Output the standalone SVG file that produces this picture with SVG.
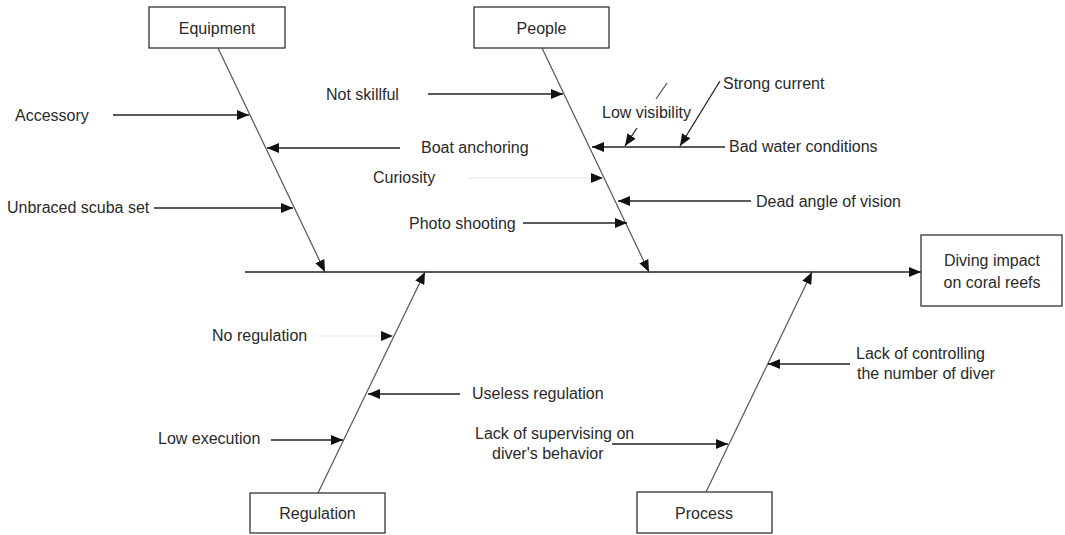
<svg xmlns="http://www.w3.org/2000/svg" width="1065" height="535" viewBox="0 0 1065 535">
<style>
  .box{fill:#fff;stroke:#333;stroke-width:1.3}
  .t{font-family:"Liberation Sans",Arial,sans-serif;font-size:16px;fill:#2a2a2a}
  .c{text-anchor:middle}
  .bone{stroke:#555;stroke-width:1.2;fill:none}
  .arr{stroke:#222;stroke-width:1.3;fill:none}
  .faint{stroke:#e6e6e6;stroke-width:1.2;fill:none}
</style>
<defs>
  <marker id="ah" markerUnits="userSpaceOnUse" markerWidth="13" markerHeight="10" refX="12" refY="5" orient="auto">
    <path d="M0,0 L12,5 L0,10 z" fill="#111"/>
  </marker>
</defs>
<rect width="1065" height="535" fill="#fff"/>
<g id="connectors">
  <line class="arr" x1="245" y1="272" x2="921" y2="272" marker-end="url(#ah)"/>
  <line class="bone" x1="218" y1="48" x2="325" y2="272" marker-end="url(#ah)"/>
  <line class="bone" x1="542" y1="48" x2="649" y2="272" marker-end="url(#ah)"/>
  <line class="bone" x1="318" y1="493" x2="425" y2="272" marker-end="url(#ah)"/>
  <line class="bone" x1="706" y1="492" x2="812" y2="272" marker-end="url(#ah)"/>
  <line class="arr" x1="113" y1="115" x2="249" y2="115" marker-end="url(#ah)"/>
  <line class="arr" x1="400" y1="148" x2="267" y2="148" marker-end="url(#ah)"/>
  <line class="arr" x1="154" y1="208" x2="293" y2="208" marker-end="url(#ah)"/>
  <line class="arr" x1="428" y1="94" x2="563" y2="94" marker-end="url(#ah)"/>
  <line class="arr" x1="725" y1="147" x2="592" y2="147" marker-end="url(#ah)"/>
  <line class="arr" x1="637" y1="128" x2="625" y2="146" marker-end="url(#ah)"/>
  <line class="bone" x1="667" y1="83" x2="656" y2="99"/>
  <line class="arr" x1="720" y1="81" x2="680" y2="146" marker-end="url(#ah)"/>
  <line class="faint" x1="468" y1="178" x2="603" y2="178" marker-end="url(#ah)"/>
  <line class="arr" x1="751" y1="201" x2="618" y2="201" marker-end="url(#ah)"/>
  <line class="arr" x1="523" y1="223" x2="627" y2="223" marker-end="url(#ah)"/>
  <line class="faint" x1="317" y1="336" x2="393" y2="336" marker-end="url(#ah)"/>
  <line class="arr" x1="460" y1="394" x2="368" y2="394" marker-end="url(#ah)"/>
  <line class="arr" x1="271" y1="440" x2="343" y2="440" marker-end="url(#ah)"/>
  <line class="arr" x1="612" y1="444" x2="728" y2="444" marker-end="url(#ah)"/>
  <line class="arr" x1="850" y1="364" x2="768" y2="364" marker-end="url(#ah)"/>
</g>
<g id="equipment"><rect class="box" x="149" y="7" width="136" height="41"/><text class="t c" x="217" y="34">Equipment</text></g>
<g id="people"><rect class="box" x="474" y="7" width="135" height="41"/><text class="t c" x="541.5" y="34">People</text></g>
<g id="regulation"><rect class="box" x="250" y="493" width="135" height="40"/><text class="t c" x="317.5" y="519">Regulation</text></g>
<g id="process"><rect class="box" x="637" y="492" width="135" height="41"/><text class="t c" x="704" y="519">Process</text></g>
<g id="effect"><rect class="box" x="921" y="235" width="141" height="71"/><text class="t c" x="992" y="266">Diving impact</text><text class="t c" x="992" y="288">on coral reefs</text></g>
<g id="labels">
  <text class="t" x="15" y="121">Accessory</text>
  <text class="t" x="421" y="153">Boat anchoring</text>
  <text class="t" x="7" y="213">Unbraced scuba set</text>
  <text class="t" x="326" y="100">Not skillful</text>
  <text class="t" x="373" y="183">Curiosity</text>
  <text class="t" x="409" y="229">Photo shooting</text>
  <text class="t" x="602" y="118">Low visibility</text>
  <text class="t" x="723" y="89">Strong current</text>
  <text class="t" x="729" y="152">Bad water conditions</text>
  <text class="t" x="756" y="207">Dead angle of vision</text>
  <text class="t" x="212" y="341">No regulation</text>
  <text class="t" x="472" y="399">Useless regulation</text>
  <text class="t" x="158" y="444">Low execution</text>
  <text class="t" x="475" y="439">Lack of supervising on</text>
  <text class="t" x="492" y="459">diver's behavior</text>
  <text class="t" x="856" y="359">Lack of controlling</text>
  <text class="t" x="857" y="379">the number of diver</text>
</g>
</svg>
